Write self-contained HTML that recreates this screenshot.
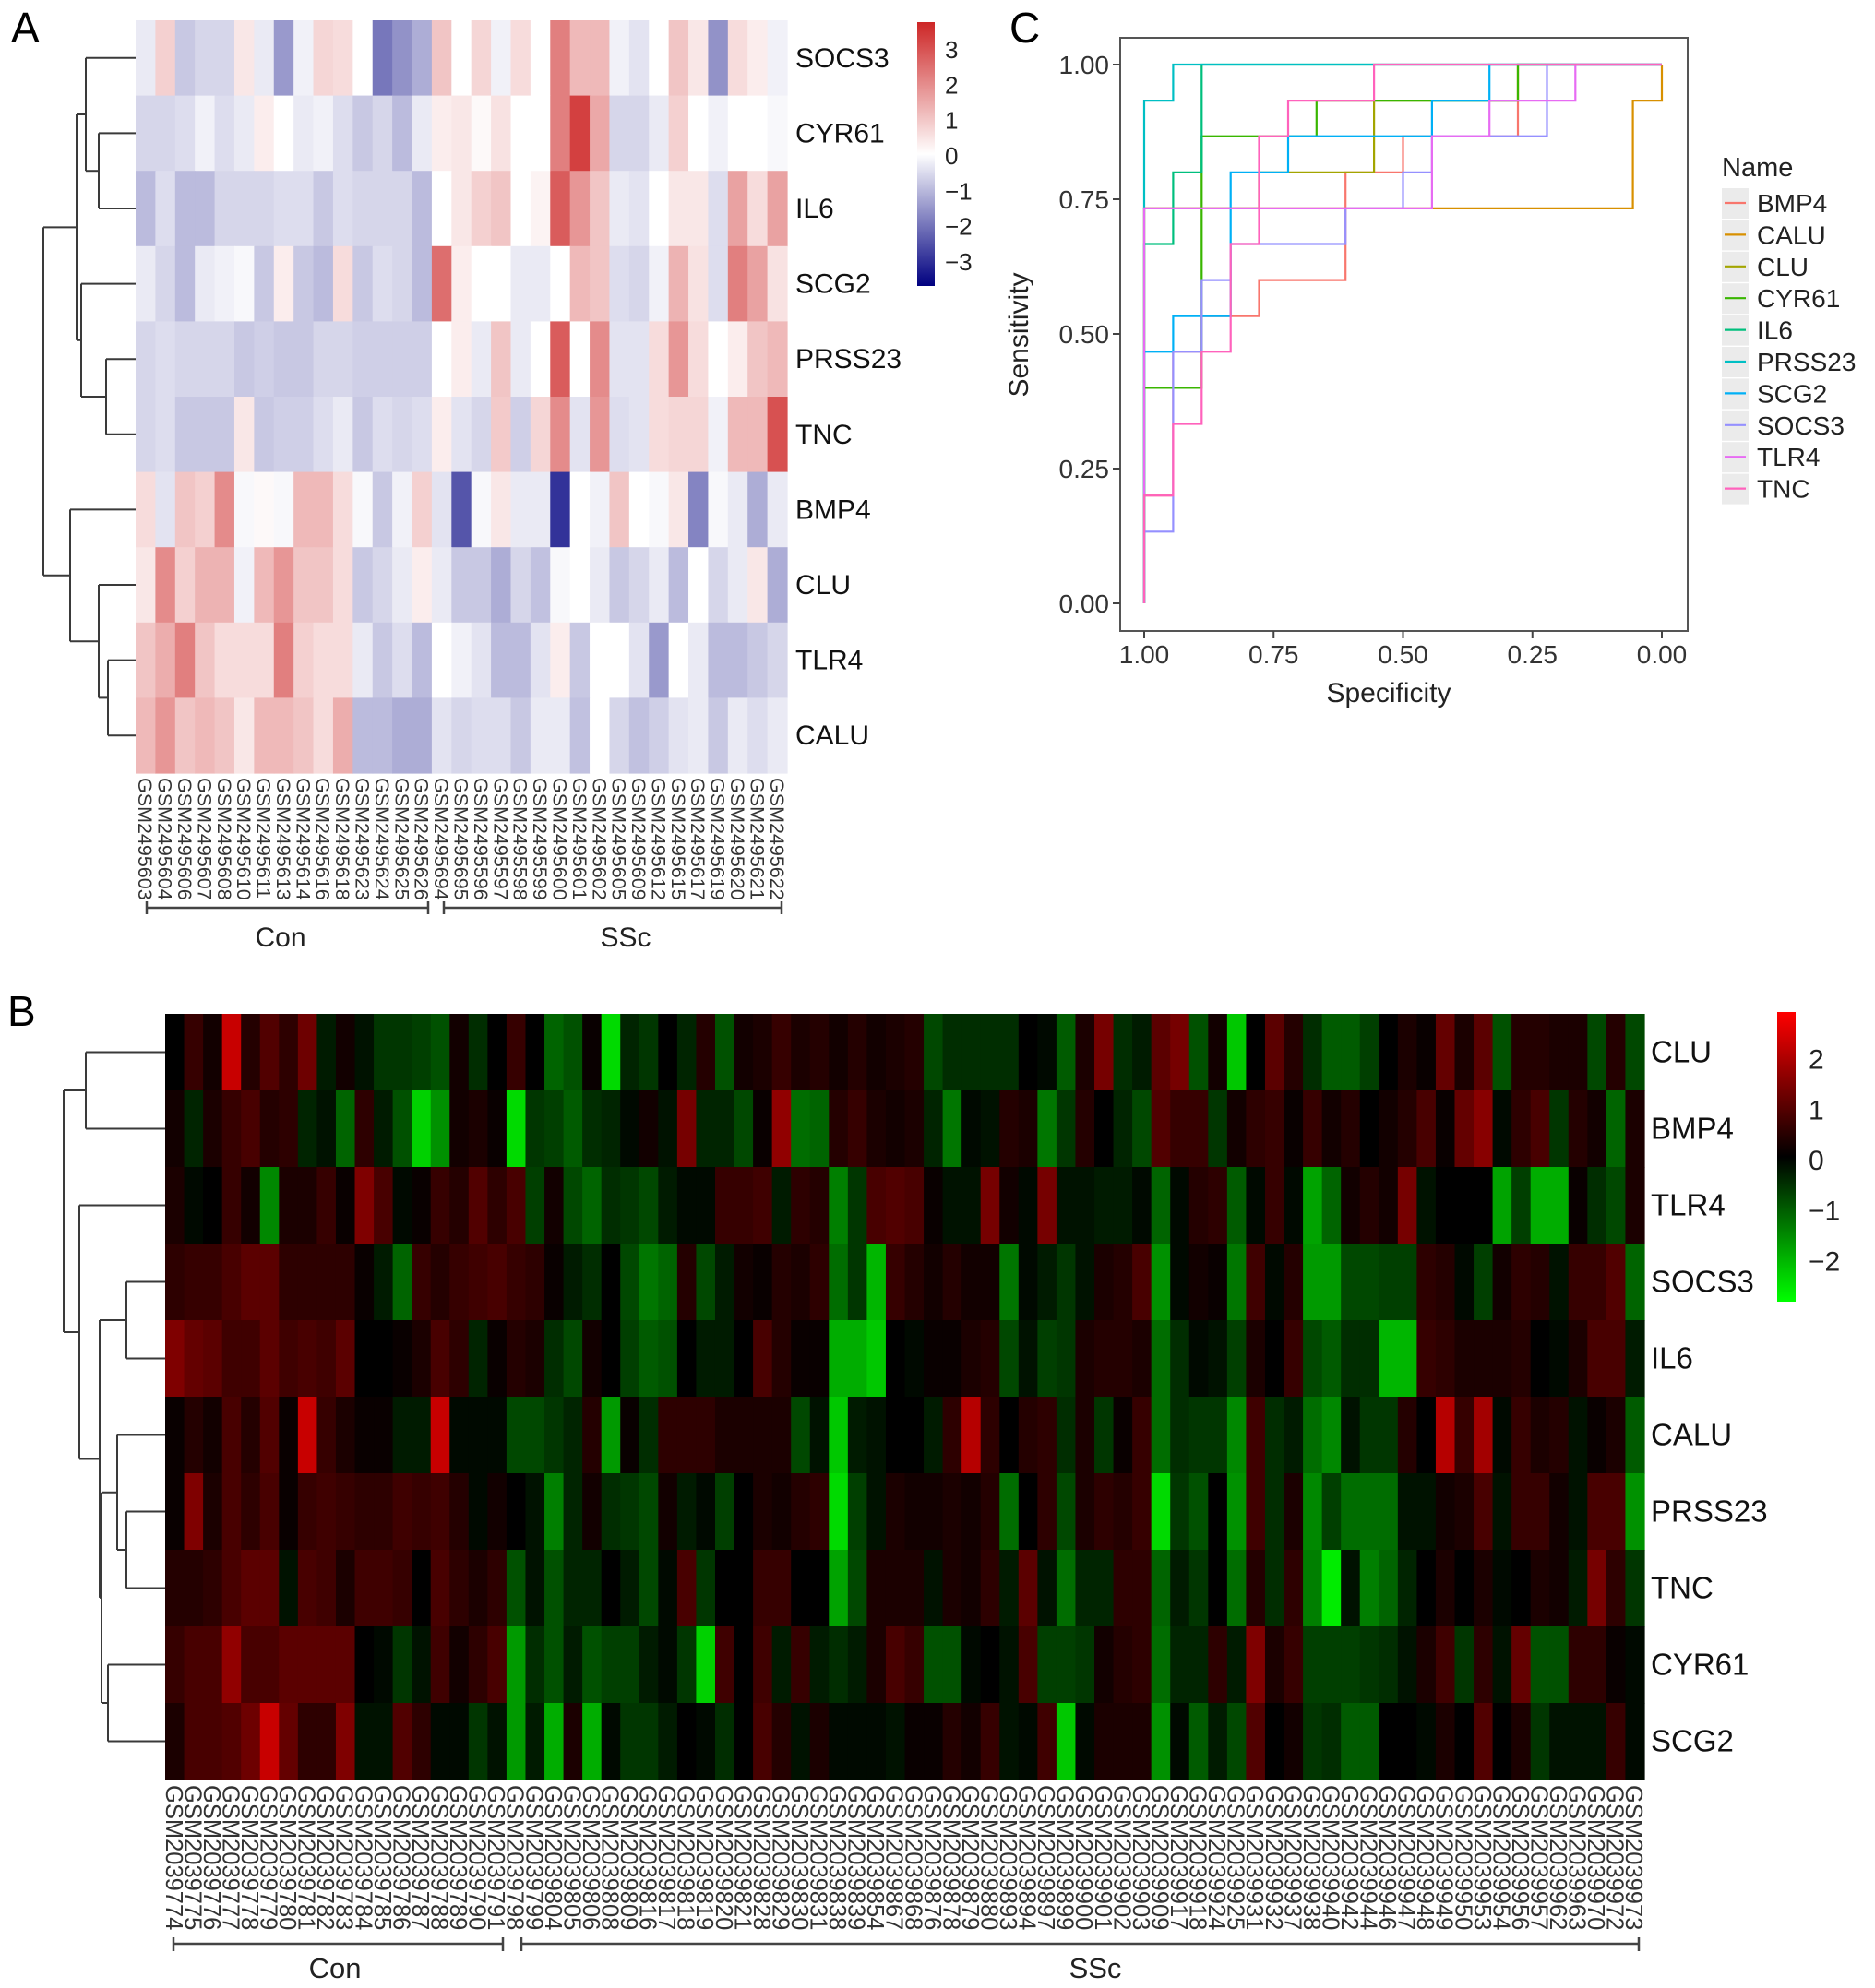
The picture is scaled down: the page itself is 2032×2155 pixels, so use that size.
<!DOCTYPE html>
<html><head><meta charset="utf-8"><style>
html,body{margin:0;padding:0;background:#fff}
svg{display:block;font-family:"Liberation Sans",Arial,sans-serif}
</style></head><body>
<svg id="fig" xmlns="http://www.w3.org/2000/svg" width="2032" height="2155" viewBox="0 0 2032 2155">
<defs>
<linearGradient id="gradA" x1="0" y1="0" x2="0" y2="1">
<stop offset="0" stop-color="#cd2626"/><stop offset="0.5" stop-color="#ffffff"/><stop offset="1" stop-color="#000080"/>
</linearGradient>
<linearGradient id="gradB" x1="0" y1="0" x2="0" y2="1">
<stop offset="0" stop-color="#ff0000"/><stop offset="0.5" stop-color="#000000"/><stop offset="1" stop-color="#00ff00"/>
</linearGradient>
</defs>
<text x="12" y="46" font-size="46">A</text>
<text x="8" y="1112" font-size="46">B</text>
<text x="1094" y="46" font-size="46">C</text>
<g id="panelA"></g>
<g id="panelB"></g>
<g id="panelC"></g>
</svg>
<script>
// ---------- Panel A data ----------
const genesA = ["SOCS3","CYR61","IL6","SCG2","PRSS23","TNC","BMP4","CLU","TLR4","CALU"];
const samplesA = ["GSM2495603","GSM2495604","GSM2495606","GSM2495607","GSM2495608","GSM2495610","GSM2495611","GSM2495613","GSM2495614","GSM2495616","GSM2495618","GSM2495623","GSM2495624","GSM2495625","GSM2495626","GSM2495694","GSM2495695","GSM2495596","GSM2495597","GSM2495598","GSM2495599","GSM2495600","GSM2495601","GSM2495602","GSM2495605","GSM2495609","GSM2495612","GSM2495615","GSM2495617","GSM2495619","GSM2495620","GSM2495621","GSM2495622"];
const rowSOCS3A = [-0.3,0.8,-0.8,-0.6,-0.6,0.4,-0.3,-1.5,-0.2,0.7,0.6,0,-2,-1.6,-1.2,1,0,0.7,-0.2,0.6,0,2.2,1.2,1.2,-0.2,-0.4,0,1,0.4,-1.6,0.6,0.3,-0.2];
const rowCYR61A = [-0.6,-0.6,-0.5,-0.2,-0.5,-0.3,0.3,0,-0.3,-0.2,-0.5,-0.8,-0.6,-1,-0.3,0.3,0.4,0.1,0.5,0,0,2.2,3.3,1.5,-0.6,-0.6,-0.3,0.8,0,-0.2,0,0,-0.1];
const rowIL6A = [-1,-0.5,-1,-1,-0.6,-0.6,-0.6,-0.5,-0.5,-0.8,-0.5,-0.6,-0.6,-0.6,-1,0,0.4,0.8,1,0,0.2,2.8,1.8,1,-0.3,-0.4,0,0.4,0.4,-0.5,1.6,0.6,1.6];
const rowSCG2A = [-0.3,-0.6,-1,-0.3,-0.2,-0.1,-0.8,0.3,-0.8,-1,0.6,-0.8,-0.5,-0.6,-1,2.5,0.3,0,0,-0.3,-0.3,0,1.2,1,-0.5,-0.6,-0.2,1.3,0.5,-0.5,2.2,1.6,0.5];
const rowPRSS23A = [-0.6,-0.5,-0.6,-0.6,-0.6,-0.8,-0.7,-0.8,-0.8,-0.6,-0.6,-0.7,-0.7,-0.7,-0.7,0,0.3,-0.3,1,-0.3,0,2.8,0,2,-0.4,-0.4,0.6,1.8,0.6,0,0.3,1,1.2];
const rowTNCA = [-0.6,-0.5,-0.8,-0.8,-0.8,0.4,-0.8,-0.7,-0.7,-0.5,-0.3,-0.8,-0.5,-0.6,-0.5,0.3,-0.4,-0.6,0.9,-0.7,0.7,2,-0.4,1.8,-0.5,-0.4,0.6,0.7,0.7,-0.2,1.2,1.2,3];
const rowBMP4A = [0.6,-0.4,1,0.8,2,-0.1,0.1,-0.1,1.2,1.2,0.6,-0.1,-0.8,-0.2,0.8,-0.4,-2.5,-0.1,0.4,-0.3,-0.3,-3,0,-0.2,1,0,-0.1,0.4,-1.8,-0.1,-0.3,-1.2,-0.3];
const rowCLUA = [0.4,2,0.8,1.3,1.3,-0.2,1.2,1.8,1,1,0.6,-0.8,-0.6,-0.3,0.3,-0.3,-0.8,-0.8,-1.2,-0.6,-0.9,-0.1,0,-0.3,-0.8,-0.6,-0.3,-1,0,-0.6,-0.3,0.4,-1.2];
const rowTLR4A = [1,1.4,2.2,1,0.6,0.6,0.6,2.2,0.8,0.6,0.6,-0.3,-0.8,-0.5,-1,0,-0.2,-0.4,-1,-1,-0.4,0.3,-0.8,0,0,-0.4,-1.5,0,-0.3,-1,-1,-0.8,-0.6];
const rowCALUA = [1.2,1.8,1,1.2,1,0.4,1.2,1.2,1,0.6,1.4,-1,-1,-1.2,-1.2,-0.4,-0.6,-0.5,-0.5,-0.8,-0.3,-0.3,-0.9,0,-0.6,-0.9,-0.7,-0.4,-0.3,-0.8,-0.3,-0.5,-0.3];
const ticksA = [3,2,1,0,-1,-2,-3];

// ---------- Panel B data ----------
const genesB = ["CLU","BMP4","TLR4","SOCS3","IL6","CALU","PRSS23","TNC","CYR61","SCG2"];
const sampleSuffixB = ["774","775","776","777","778","779","780","781","782","783","784","785","786","787","788","789","790","791","798","799","804","805","806","808","809","816","817","818","819","820","821","828","829","830","831","838","839","854","867","868","876","878","879","880","893","894","897","899","900","901","902","903","909","917","918","924","925","931","932","937","938","940","942","944","946","947","948","949","950","953","954","956","957","962","963","970","972","973"];
const rowCLUB = [0,0.6,0.2,2.2,0.4,0.9,0.5,1.2,-0.3,0.2,-0.2,-0.6,-0.6,-0.7,-0.9,0.2,-0.5,0,0.6,0,-1.1,-0.9,0.1,-2.4,-0.4,-0.6,0,-0.4,0.4,-0.9,0.2,0.3,0.6,0.3,0.4,0.2,0.4,0.2,0.3,0.4,-0.8,-0.5,-0.5,-0.5,-0.5,0,-0.1,-1,0.3,1.3,-0.5,-0.3,1,1.3,-0.9,0.2,-2.2,0,1,0.4,-0.5,-1,-1,-0.7,0,0.3,0.1,1.1,0.3,1.0,-0.9,0.4,0.4,0.3,0.3,-0.8,0.4,-0.8];
const rowBMP4B = [0.2,-0.4,0.3,0.6,0.8,0.4,0.5,-0.4,-0.2,-1.1,0.5,-0.3,-0.9,-2.3,-1.6,0.2,0.3,0.1,-2.4,-0.6,-0.7,-1,-0.5,-0.4,-0.1,0.2,-0.2,1.3,-0.4,-0.4,-0.8,0.1,1.6,-1.2,-1.1,0.4,0.6,0.3,0.2,0.3,-0.4,-1.3,-0.1,-0.2,0.4,0.3,-1.3,-0.6,0.4,0,-0.4,-0.8,0.9,0.6,0.6,-0.6,0.2,0.5,0.6,0.1,0.6,0.2,0.4,0,0.2,0.4,0.8,0.1,1.1,1.5,-0.1,0.5,0.8,-0.6,0.4,0.2,-1.1,0.3];
const rowTLR4B = [0.3,-0.1,0,0.6,0.2,-1.5,0.3,0.3,0.6,0.1,1.4,0.8,-0.1,0.1,0.6,0.4,0.9,0.5,0.8,-0.7,0.2,-0.8,-1.1,-0.5,-0.6,-0.8,-0.3,-0.1,-0.1,0.6,0.6,0.7,-0.3,0.5,0.4,-1.4,-0.6,0.8,0.9,0.8,0.1,-0.2,-0.2,1.3,0.2,-0.1,1.3,-0.2,-0.2,-0.3,-0.3,-0.1,-1.1,-0.1,0.4,0.5,-1,-0.1,0.6,-0.1,-1.8,-1.1,0.2,0.4,0.2,1.3,-0.2,0,0,0,-1.8,-0.7,-1.9,-1.9,0.1,-0.5,-0.8,0.3];
const rowSOCS3B = [0.5,0.6,0.6,0.8,1.0,1.0,0.5,0.5,0.5,0.5,0.1,-0.3,-1.1,0.6,0.4,0.6,0.7,0.8,0.6,0.5,0.1,-0.3,-0.5,0,-0.8,-1.3,-1.1,0.4,-0.8,-0.3,0.2,0.1,0.4,0.3,0.5,-1.2,-0.6,-2.0,0.6,0.4,0.2,0.4,0.2,0.2,-1.3,-0.1,-0.3,-0.6,-0.2,0.3,0.4,0.8,-1.6,-0.1,0.2,0.1,-1.3,0.7,-0.1,0.4,-1.7,-1.7,-0.8,-0.8,-0.7,-0.7,0.5,0.4,-0.1,-0.7,0.2,0.5,0.4,-0.2,0.6,0.6,0.9,-1.1];
const rowIL6B = [1.4,1.1,1.0,0.7,0.7,1.0,0.7,0.8,0.7,1.0,0,0,0.1,0.3,0.8,0.5,-0.4,0.1,0.4,0.3,-0.5,-0.8,0.2,0,-0.7,-1,-0.9,0,-0.3,-0.3,0,0.8,0.4,0.1,0.1,-1.9,-1.9,-2.2,0,-0.1,0.1,0.1,0.3,0.4,-0.8,-0.2,-0.7,-0.6,0.3,0.4,0.4,0.3,-1.2,-0.5,-0.1,-0.2,-0.7,0.3,0,0.6,-0.8,-1,-0.5,-0.5,-2.0,-2.0,0.6,0.5,0.3,0.3,0.3,0.4,0,-0.1,0.3,0.8,0.8,-0.3];
const rowCALUB = [0.1,0.4,0.2,0.8,0.4,0.9,0.1,2.2,0.6,0.3,0.1,0.1,-0.3,-0.3,2.2,-0.1,-0.1,-0.1,-0.8,-0.8,-0.6,-0.4,0.4,-1.7,0.1,-0.5,0.5,0.5,0.5,0.3,0.3,0.3,0.3,-0.8,-0.2,-2.2,-0.3,-0.2,0,0,-0.3,0.5,2.0,0.5,0,0.4,0.5,-0.5,0.3,-0.6,0.1,0.6,-1.2,-0.5,-0.6,-0.6,-1.5,0.7,-0.5,-0.3,-1.2,-1.5,-0.2,-0.6,-0.6,0.4,0,2.0,0.6,1.8,-0.1,0.6,0.3,0.4,-0.2,0.1,0.3,-1];
const rowPRSS23B = [0.1,1.4,0.3,0.8,0.5,0.8,0.1,0.6,0.7,0.6,0.5,0.5,0.7,0.6,0.7,0.4,-0.1,0.2,0,-0.2,-1.4,-0.4,0.2,-0.5,-0.6,-0.8,0.2,-0.3,-0.1,-0.7,0,0.3,0.2,0.4,0.5,-2.4,-0.7,-0.2,0.3,0.2,0.2,0.3,0.2,0.4,-1.2,0,0.5,-0.8,0.3,0.5,0.4,0.6,-2.4,-0.6,-0.9,0,-1.6,0.7,-0.5,0.3,-1.5,-0.7,-1.2,-1.2,-1.2,-0.2,-0.2,0.2,0.3,0.8,-0.2,0.6,0.6,0.2,-0.2,0.8,0.8,-1.6];
const rowTNCB = [0.4,0.4,0.5,0.8,1.0,1.0,-0.2,0.8,0.7,0.3,0.7,0.7,0.6,0,0.8,0.5,0.3,0.5,-0.9,-0.2,-0.9,-0.4,-0.4,0,-0.3,-0.8,-0.1,0.8,-0.6,0,0,0.6,0.6,0,0,-1.8,-0.8,0.3,0.3,0.3,-0.2,0.3,0.2,0.5,-0.3,1.0,-0.2,-1.2,-0.4,-0.4,0.5,0.5,-1.1,-0.3,-0.6,0,-1.2,0.4,-0.5,0.5,-1.4,-2.6,-0.2,-1.4,-1.1,-0.4,0,0.3,0,0.3,-0.1,0,0.3,0.2,-0.3,1.3,0.5,-0.6];
const rowCYR61B = [0.6,0.8,0.8,1.6,0.8,0.8,1.0,1.0,1.0,1.0,0,-0.1,-0.6,-0.2,0.7,0.2,0.5,0.8,-1.7,-0.5,-0.9,-0.3,-0.9,-0.7,-0.7,-0.3,-0.1,-0.6,-2.3,0.7,0,0.7,-0.3,0.6,-0.3,-0.5,-0.3,0.3,0.8,0.6,-0.9,-0.9,-0.1,0,-0.2,0.8,-0.7,-0.7,-0.6,0.2,0.4,0.5,-1.2,-0.4,-0.4,0.5,-0.3,1.4,0.3,0.6,-0.7,-0.7,-0.7,-0.6,-0.5,-0.2,0.3,0.7,-0.6,0.5,-0.2,1.1,-0.9,-0.9,0.5,0.5,0.1,-0.1];
const rowSCG2B = [0.3,0.8,0.8,0.9,1.2,2.2,1.1,0.5,0.5,1.4,-0.2,-0.2,0.9,0.5,-0.1,-0.1,-0.6,-0.2,-1.7,-0.3,-1.9,0.3,-1.9,-0.1,-0.6,-0.6,-0.3,0,-0.1,-0.5,0,0.8,0.4,-0.2,0.3,-0.1,-0.1,-0.1,-0.2,0.1,0.1,0.4,0.2,0.6,-0.2,-0.1,0.7,-2.2,-0.1,0.3,0.3,0.3,-1.6,-0.1,-1.0,-0.3,-0.8,0.9,0,0.2,-0.6,-0.5,-1.0,-1.0,0,0,-0.1,0.3,0,0.9,0,0.3,-0.6,-0.2,-0.2,-0.2,0.6,-0.1];
const ticksB = [2,1,0,-1,-2];

// ---------- Panel C data ----------
const rocNames = ["BMP4","CALU","CLU","CYR61","IL6","PRSS23","SCG2","SOCS3","TLR4","TNC"];
const rocColors = ["#F8766D","#D89000","#A3A500","#39B600","#00BF7D","#00BFC4","#00B0F6","#9590FF","#E76BF3","#FF62BC"];
const specBMP4 = [1,1,0.944,0.944,0.889,0.889,0.778,0.778,0.611,0.611,0.5,0.5,0.278,0.278,0];
const sensBMP4 = [0,0.2,0.2,0.467,0.467,0.533,0.533,0.6,0.6,0.8,0.8,0.867,0.867,1,1];
const specCALU = [1,1,0.056,0.056,0,0];
const sensCALU = [0,0.733,0.733,0.933,0.933,1];
const specCLU = [1,1,0.778,0.778,0.556,0.556,0.278,0.278,0];
const sensCLU = [0,0.733,0.733,0.8,0.8,0.933,0.933,1,1];
const specCYR61 = [1,1,0.889,0.889,0.667,0.667,0.278,0.278,0];
const sensCYR61 = [0,0.4,0.4,0.867,0.867,0.933,0.933,1,1];
const specIL6 = [1,1,0.944,0.944,0.889,0.889,0];
const sensIL6 = [0,0.667,0.667,0.8,0.8,1,1];
const specPRSS23 = [1,1,0.944,0.944,0];
const sensPRSS23 = [0,0.933,0.933,1,1];
const specSCG2 = [1,1,0.944,0.944,0.833,0.833,0.722,0.722,0.444,0.444,0.333,0.333,0];
const sensSCG2 = [0,0.467,0.467,0.533,0.533,0.8,0.8,0.867,0.867,0.933,0.933,1,1];
const specSOCS3 = [1,1,0.944,0.944,0.889,0.889,0.833,0.833,0.611,0.611,0.5,0.5,0.444,0.444,0.222,0.222,0];
const sensSOCS3 = [0,0.133,0.133,0.467,0.467,0.6,0.6,0.667,0.667,0.733,0.733,0.8,0.8,0.867,0.867,1,1];
const specTLR4 = [1,1,0.444,0.444,0.333,0.333,0.167,0.167,0];
const sensTLR4 = [0,0.733,0.733,0.867,0.867,0.933,0.933,1,1];
const specTNC = [1,1,0.944,0.944,0.889,0.889,0.833,0.833,0.778,0.778,0.722,0.722,0.556,0.556,0];
const sensTNC = [0,0.2,0.2,0.333,0.333,0.467,0.467,0.667,0.667,0.867,0.867,0.933,0.933,1,1];
const xTicksC = [1.00,0.75,0.50,0.25,0.00];
const yTicksC = [0.00,0.25,0.50,0.75,1.00];

const NS = "http://www.w3.org/2000/svg";
function mk(tag, attrs, parent){const e=document.createElementNS(NS,tag);for(const k in attrs)e.setAttribute(k,attrs[k]);parent.appendChild(e);return e;}
function fmtNeg(v){return v<0?"\u2212"+Math.abs(v):String(v);}

function colA(v){
  const t=Math.max(-1,Math.min(1,v/3.75));
  let r,g,b;
  if(t>=0){r=255+(205-255)*t;g=255+(38-255)*t;b=255+(38-255)*t;}
  else{const u=-t;r=255*(1-u);g=255*(1-u);b=255+(128-255)*u;}
  return `rgb(${r|0},${g|0},${b|0})`;
}
function colB(v){
  const t=Math.max(-1,Math.min(1,v/2.8));
  return t>=0?`rgb(${(255*t)|0},0,0)`:`rgb(0,${(255*-t)|0},0)`;
}

function drawTree(g,node,leafY){
  if(typeof node==="number") return leafY(node);
  const ys=[];const ends=[];
  for(const ch of node.c){const y=drawTree(g,ch,leafY);ys.push(y);ends.push(typeof ch==="number"?null:ch.x);}
  for(let i=0;i<ys.length;i++){
    const x2=ends[i]===null?node.leafX:ends[i];
    const ln=mk("line",{x1:node.x,y1:ys[i],x2:x2,y2:ys[i],stroke:"#3a3a3a","stroke-width":2},g);
    
    
  }
  const v=mk("line",{x1:node.x,y1:ys[0],x2:node.x,y2:ys[ys.length-1],stroke:"#3a3a3a","stroke-width":2},g);
  
  
  return (ys[0]+ys[ys.length-1])/2;
}

// ---------- Panel A ----------
(function(){
  const g=document.getElementById("panelA");
  const rowsA=[rowSOCS3A,rowCYR61A,rowIL6A,rowSCG2A,rowPRSS23A,rowTNCA,rowBMP4A,rowCLUA,rowTLR4A,rowCALUA];
  const x0=147,x1=853,y0=22,y1=838;
  const cw=(x1-x0)/samplesA.length, rh=(y1-y0)/genesA.length;
  rowsA.forEach((row,i)=>{
    row.forEach((v,j)=>{
      const r=mk("rect",{x:x0+j*cw,y:y0+i*rh,width:cw+0.6,height:rh+0.6,fill:colA(v)},g);
      
      
    });
    const t=mk("text",{x:862,y:y0+(i+0.5)*rh+10,"font-size":30,fill:"#111"},g);
    t.textContent=genesA[i];
    
    
  });
  samplesA.forEach((s,j)=>{
    const cx=x0+(j+0.5)*cw;
    const t=mk("text",{x:0,y:0,"font-size":21.5,fill:"#333",transform:`translate(${cx-7.5},${y1+5}) rotate(90)`},g);
    t.textContent=s;
    
    
  });
  const br=[[159,464,"Con",304],[481,847,"SSc",678]];
  br.forEach(b=>{
    const p=mk("path",{d:`M${b[0]},${977}V${991}M${b[0]},984H${b[1]}M${b[1]},977V991`,stroke:"#444","stroke-width":2.5,fill:"none"},g);
    
    
    const t=mk("text",{x:b[3],y:1026,"font-size":30,"text-anchor":"middle",fill:"#222"},g);
    t.textContent=b[2];
    
    
  });
  const cb=mk("rect",{x:994,y:24,width:19,height:286,fill:"url(#gradA)"},g);
  
  
  const zeroY=169, per=38.3;
  ticksA.forEach(v=>{
    const t=mk("text",{x:1024,y:zeroY-v*per+9,"font-size":26,fill:"#222"},g);
    t.textContent=fmtNeg(v);
    
    
  });
  const treeA={x:47,leafX:x0,c:[
    {x:83,leafX:x0,c:[{x:93,leafX:x0,c:[0,{x:107,leafX:x0,c:[1,2]}]},{x:88,leafX:x0,c:[3,{x:115,leafX:x0,c:[4,5]}]}]},
    {x:76,leafX:x0,c:[6,{x:107,leafX:x0,c:[7,{x:117,leafX:x0,c:[8,9]}]}]}]};
  const dg=mk("g",{},g);
  
  
  drawTree(dg,treeA,i=>y0+(i+0.5)*rh);
})();

// ---------- Panel B ----------
(function(){
  const g=document.getElementById("panelB");
  const rowsB=[rowCLUB,rowBMP4B,rowTLR4B,rowSOCS3B,rowIL6B,rowCALUB,rowPRSS23B,rowTNCB,rowCYR61B,rowSCG2B];
  const x0=179,x1=1782,y0=1099,y1=1929;
  const n=sampleSuffixB.length;
  const cw=(x1-x0)/n, rh=(y1-y0)/genesB.length;
  rowsB.forEach((row,i)=>{
    row.forEach((v,j)=>{
      const r=mk("rect",{x:x0+j*cw,y:y0+i*rh,width:cw+0.6,height:rh+0.6,fill:colB(v)},g);
      
      
    });
    const t=mk("text",{x:1789,y:y0+(i+0.5)*rh+11,"font-size":33,fill:"#111"},g);
    t.textContent=genesB[i];
    
    
  });
  sampleSuffixB.forEach((s,j)=>{
    const cx=x0+(j+0.5)*cw;
    const t=mk("text",{x:0,y:0,"font-size":25.5,fill:"#333",transform:`translate(${cx-9.5},${y1+6}) rotate(90)`},g);
    t.textContent="GSM2039"+s;
    
    
  });
  const br=[[188,545,"Con",363],[565,1776,"SSc",1187]];
  br.forEach(b=>{
    const p=mk("path",{d:`M${b[0]},2100V2115M${b[0]},2107H${b[1]}M${b[1]},2100V2115`,stroke:"#444","stroke-width":2.5,fill:"none"},g);
    
    
    const t=mk("text",{x:b[3],y:2144,"font-size":31,"text-anchor":"middle",fill:"#222"},g);
    t.textContent=b[2];
    
    
  });
  const cb=mk("rect",{x:1926,y:1097,width:20,height:314,fill:"url(#gradB)"},g);
  
  
  const zeroY=1258, per=54.7;
  ticksB.forEach(v=>{
    const t=mk("text",{x:1960,y:zeroY-v*per+10,"font-size":30,fill:"#222"},g);
    t.textContent=fmtNeg(v);
    
    
  });
  const L=x0;
  const treeB={x:69,leafX:L,c:[
    {x:93,leafX:L,c:[0,1]},
    {x:86,leafX:L,c:[2,{x:108,leafX:L,c:[{x:137,leafX:L,c:[3,4]},{x:110,leafX:L,c:[{x:127,leafX:L,c:[5,{x:137,leafX:L,c:[6,7]}]},{x:117,leafX:L,c:[8,9]}]}]}]}]};
  const dg=mk("g",{},g);
  
  
  drawTree(dg,treeB,i=>y0+(i+0.5)*rh);
})();

// ---------- Panel C ----------
(function(){
  const g=document.getElementById("panelC");
  const bx0=1214,bx1=1829,by0=41,by1=684;
  const sx=v=>1240+(1-v)*(1801-1240);
  const sy=v=>654-v*(654-70);
  const box=mk("rect",{x:bx0,y:by0,width:bx1-bx0,height:by1-by0,fill:"#fff",stroke:"#555","stroke-width":2},g);
  
  
  xTicksC.forEach(v=>{
    const tk=mk("line",{x1:sx(v),y1:by1,x2:sx(v),y2:by1+8,stroke:"#444","stroke-width":2},g);
    
    
    const t=mk("text",{x:sx(v),y:by1+35,"font-size":28,"text-anchor":"middle",fill:"#333"},g);
    t.textContent=v.toFixed(2);
    
    
  });
  yTicksC.forEach(v=>{
    const tk=mk("line",{x1:bx0-8,y1:sy(v),x2:bx0,y2:sy(v),stroke:"#444","stroke-width":2},g);
    
    
    const t=mk("text",{x:bx0-12,y:sy(v)+10,"font-size":28,"text-anchor":"end",fill:"#333"},g);
    t.textContent=v.toFixed(2);
    
    
  });
  const xt=mk("text",{x:1505,y:761,"font-size":30,"text-anchor":"middle",fill:"#222"},g);
  xt.textContent="Specificity";
  
  
  const yt=mk("text",{x:0,y:0,"font-size":30,"text-anchor":"middle",fill:"#222",transform:"translate(1114,363) rotate(-90)"},g);
  yt.textContent="Sensitivity";
  
  
  const specs=[specBMP4,specCALU,specCLU,specCYR61,specIL6,specPRSS23,specSCG2,specSOCS3,specTLR4,specTNC];
  const senss=[sensBMP4,sensCALU,sensCLU,sensCYR61,sensIL6,sensPRSS23,sensSCG2,sensSOCS3,sensTLR4,sensTNC];
  specs.forEach((sp,k)=>{
    const d=sp.map((v,i)=>(i?"L":"M")+sx(v).toFixed(1)+","+sy(senss[k][i]).toFixed(1)).join("");
    const p=mk("path",{d:d,fill:"none",stroke:rocColors[k],"stroke-width":2.2},g);
    
    
  });
  const lt=mk("text",{x:1866,y:191,"font-size":29,fill:"#222"},g);
  lt.textContent="Name";
  
  
  rocNames.forEach((nm,k)=>{
    const cy=220+k*34.4;
    const bg=mk("rect",{x:1866,y:cy-16,width:29,height:33,fill:"#ebebeb"},g);
    
    
    const ln=mk("line",{x1:1869,y1:cy,x2:1892,y2:cy,stroke:rocColors[k],"stroke-width":2.2},g);
    
    
    const t=mk("text",{x:1904,y:cy+10,"font-size":28,fill:"#222"},g);
    t.textContent=nm;
    
    
  });
})();
</script>
</body></html>
